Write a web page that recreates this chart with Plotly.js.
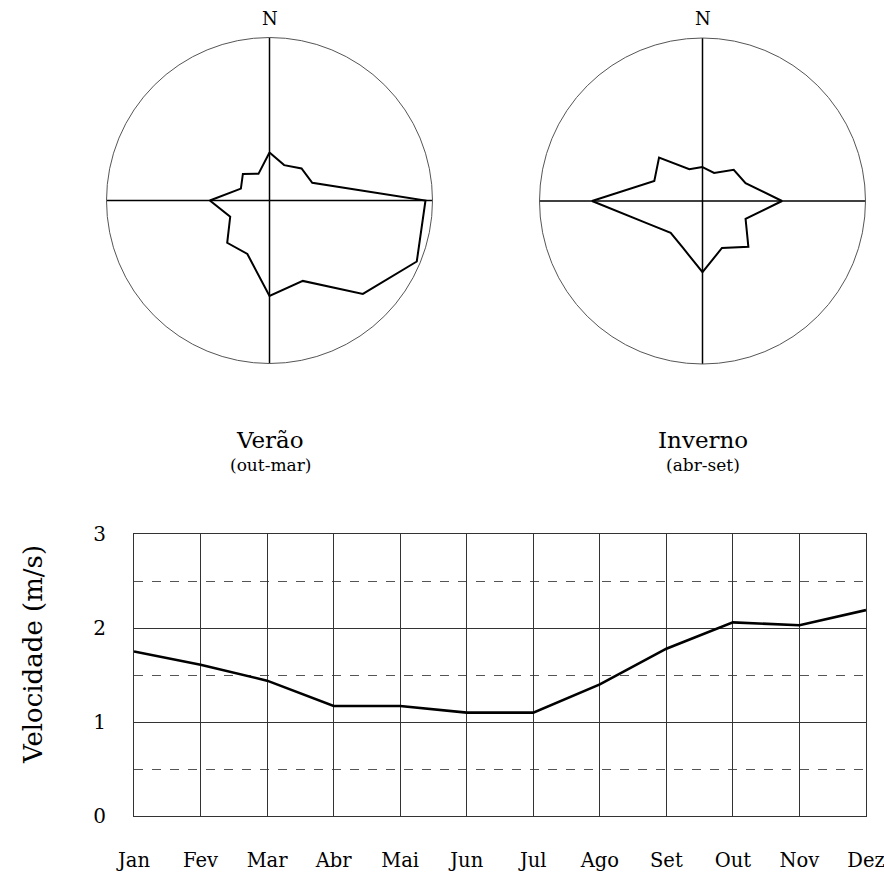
<!DOCTYPE html>
<html>
<head>
<meta charset="utf-8">
<script src="https://cdn.plot.ly/plotly-3.0.1.min.js"></script>
<style>html,body{margin:0;padding:0;background:#fff;}#chart{width:884px;height:874px;}</style>
</head>
<body>
<div id="chart"></div>
<script>
// Wind directions (16 sectors)
const directions = ['N','NNE','NE','ENE','E','ESE','SE','SSE','S','SSW','SW','WSW','W','WNW','NW','NNW'];
// Relative frequency (% of outer circle radius)
const verao   = [29.4, 23.5, 27.8, 28.4, 95.7, 97.8, 81.0, 53.4, 58.5, 35.5, 36.7, 26.1, 36.6, 19.0, 23.1, 17.7];
const inverno = [20.8, 18.6, 27.1, 28.6, 48.8, 28.6, 39.8, 31.2, 43.7, 31.2, 27.6, 36.3, 67.8, 32.0, 37.7, 21.1];
// Monthly mean wind speed (m/s)
const months = ['Jan','Fev','Mar','Abr','Mai','Jun','Jul','Ago','Set','Out','Nov','Dez'];
const speed  = [1.75, 1.61, 1.44, 1.17, 1.17, 1.10, 1.10, 1.40, 1.78, 2.06, 2.03, 2.19];
const yTicks = [0, 1, 2, 3];

const FONT = 'DejaVu Serif';
const close = a => a.concat([a[0]]);

const polarCommon = {
  bgcolor: 'white',
  radialaxis: {visible: false, range: [0, 100]},
  angularaxis: {
    type: 'category', categoryarray: directions,
    rotation: 90, direction: 'clockwise',
    tickmode: 'array', tickvals: ['N','E','S','W'],
    showticklabels: false, ticks: '',
    showgrid: true, gridcolor: '#000', gridwidth: 1.5,
    showline: true, linecolor: '#555', linewidth: 1
  }
};

const traces = [
  {type: 'scatterpolar', subplot: 'polar', theta: close(directions), r: close(verao),
   mode: 'lines', line: {color: '#000', width: 2}, hoverinfo: 'skip'},
  {type: 'scatterpolar', subplot: 'polar2', theta: close(directions), r: close(inverno),
   mode: 'lines', line: {color: '#000', width: 2}, hoverinfo: 'skip'},
  {type: 'scatter', x: months, y: speed, mode: 'lines',
   line: {color: '#000', width: 2.6}, hoverinfo: 'skip'}
];

const W = 884, H = 874;
function label(text, px, py, size, angle) {
  return {text: text, x: px / W, y: (H - py) / H, xref: 'paper', yref: 'paper',
          xanchor: 'center', yanchor: 'middle', showarrow: false, textangle: angle || 0,
          font: {family: FONT, size: size, color: '#000'}};
}

const layout = {
  width: W, height: H,
  margin: {l: 0, r: 0, t: 0, b: 0},
  paper_bgcolor: 'white', plot_bgcolor: 'white',
  showlegend: false,
  font: {family: FONT, color: '#000'},
  polar: Object.assign({}, polarCommon, {domain: {x: [106.5/W, 432.5/W], y: [(H-363.5)/H, (H-37.5)/H]}}),
  polar2: Object.assign({}, polarCommon, {domain: {x: [539.5/W, 865.5/W], y: [(H-364)/H, (H-38)/H]}}),
  xaxis: {
    domain: [134/W, 866/W], range: [0, 11],
    type: 'category', categoryarray: months,
    showgrid: true, gridcolor: '#333', gridwidth: 1,
    showline: true, mirror: true, linecolor: '#333', linewidth: 1,
    ticks: 'outside', ticklen: 27, tickcolor: 'rgba(0,0,0,0)',
    tickfont: {family: FONT, size: 19.5, color: '#000'},
    zeroline: false, fixedrange: true
  },
  yaxis: {
    domain: [(H-816)/H, (H-534)/H], range: [0, 3],
    tickmode: 'array', tickvals: yTicks,
    showgrid: true, gridcolor: '#333', gridwidth: 1,
    minor: {dtick: 0.5, showgrid: true, gridcolor: '#555', griddash: 'dash', gridwidth: 1},
    showline: true, mirror: true, linecolor: '#333', linewidth: 1,
    ticks: 'outside', ticklen: 23, tickcolor: 'rgba(0,0,0,0)',
    tickfont: {family: FONT, size: 20, color: '#000'},
    zeroline: false, fixedrange: true
  },
  annotations: [
    label('N', 269.5, 18, 18),
    label('N', 703, 18, 18),
    label('Verão', 270, 440, 23),
    label('(out-mar)', 270, 465, 17),
    label('Inverno', 703, 440, 23),
    label('(abr-set)', 703, 465, 17),
    label('Velocidade (m/s)', 33, 655, 26, -90)
  ]
};

Plotly.newPlot('chart', traces, layout, {staticPlot: true});
</script>
</body>
</html>
